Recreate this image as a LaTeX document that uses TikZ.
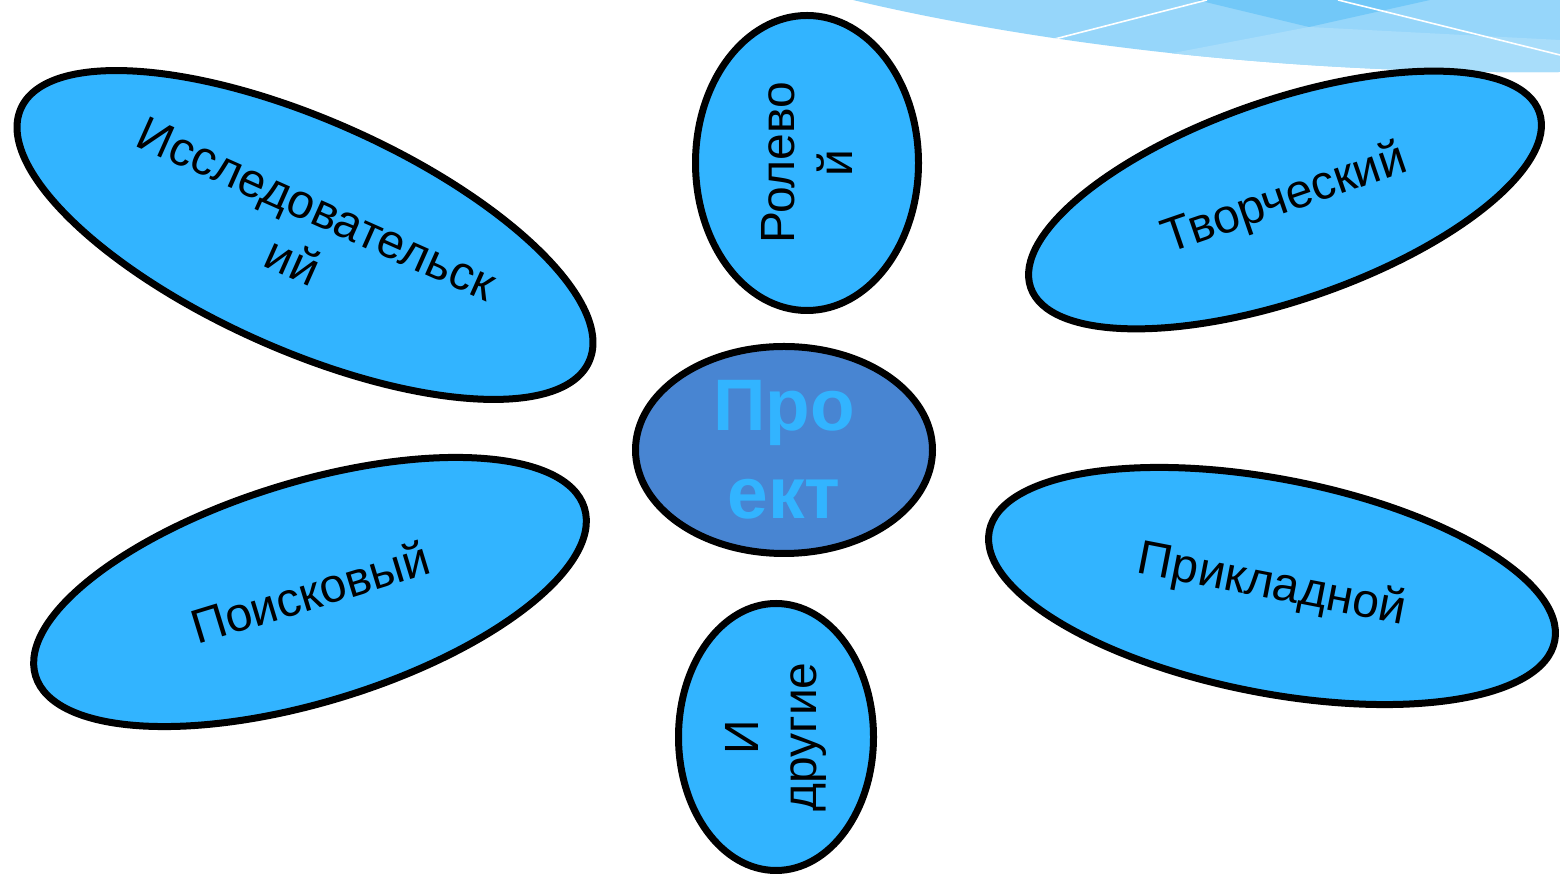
\documentclass[tikz,border=0pt]{standalone}
\usepackage{fontspec}
\setmainfont{Liberation Sans}
\usetikzlibrary{shapes.geometric}
\definecolor{petalblue}{RGB}{50,180,255}
\definecolor{coreblue}{RGB}{72,133,210}
\definecolor{swooshA}{RGB}{150,214,250}
\definecolor{swooshB}{RGB}{168,221,250}
\definecolor{swooshC}{RGB}{114,200,248}
\tikzset{
  petal/.style={ellipse, draw=black, line width=7pt, fill=petalblue, inner sep=0pt,
    align=center, font=\fontsize{48}{58}\selectfont},
  coretext/.style={align=center, text=petalblue, font=\bfseries\fontsize{73}{88}\selectfont, inner sep=0pt},
  swline/.style={draw=white, line width=1.6pt}
}
\begin{document}
\begin{tikzpicture}[x=1pt,y=1pt]
\useasboundingbox (0,0) rectangle (1560,877);
\fill[white] (0,0) rectangle (1560,877);
% decorative swoosh
\begin{scope}
  \clip (853,877) .. controls (1000,842) and (1250,802) .. (1560,805) -- (1560,877) -- cycle;
  \fill[swooshA] (800,760) rectangle (1560,877);
  \fill[swooshB] (1100,810) -- (1309,850) -- (1560,837) -- (1560,760) -- (1100,760) -- cycle;
  \fill[swooshC] (1197,877) -- (1309,850) -- (1430,877) -- cycle;
  \coordinate (w1a) at (1047,836);
  \coordinate (w1b) at (1207,877);
  \coordinate (w2a) at (1338,877);
  \coordinate (w2b) at (1560,822);
  \draw[swline] (w1a) -- (w1b);
  \draw[swline] (w2a) -- (w2b);
\end{scope}
% petals
\node[petal, minimum width=622pt, minimum height=230pt, rotate=-24] (issl) at (305,642) {Исследовательск\\ий};
\node[petal, minimum width=295pt, minimum height=223pt, rotate=90] (role) at (807,714) {Ролево\\й};
\node[petal, minimum width=538pt, minimum height=200pt, rotate=19] (tvor) at (1285,677) {Творческий};
\node[petal, minimum width=574pt, minimum height=220pt, rotate=17] (pois) at (310,285) {Поисковый};
\node[petal, minimum width=576pt, minimum height=214pt, rotate=-11] (prik) at (1272,291) {Прикладной};
\node[petal, minimum width=267pt, minimum height=195pt, rotate=90] (drug) at (776,140) {И\\другие};
% centre
\node[ellipse, draw=black, line width=7pt, fill=coreblue, inner sep=0pt,
  minimum width=297pt, minimum height=207pt] (core) at (784,427) {};
\node[coretext] (coretxt) at (core.center) {Про\\ект};
\end{tikzpicture}
\end{document}
